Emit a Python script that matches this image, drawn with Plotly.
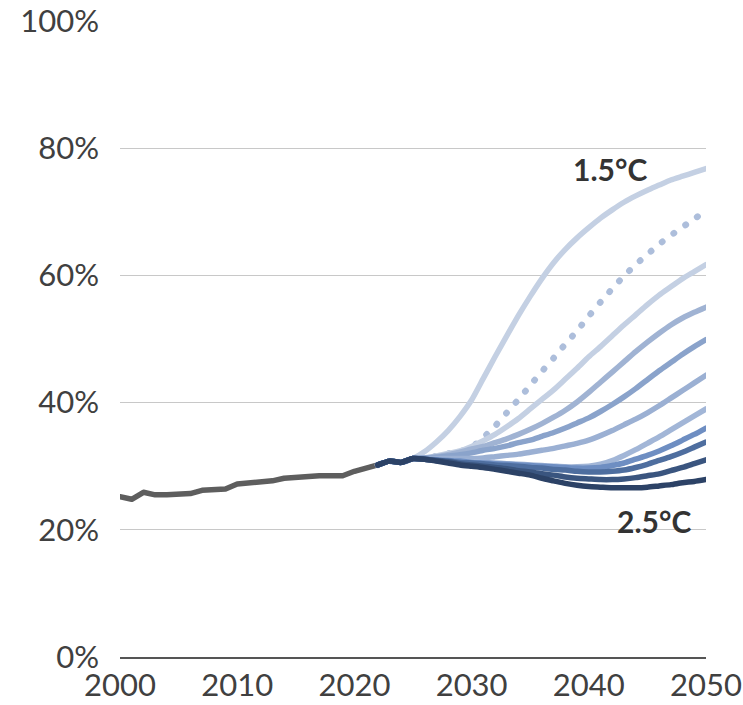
import plotly.graph_objects as go

# Historical share, 2000-2022
hist_years = list(range(2000, 2023))
hist_share = [25.2, 24.8, 25.9, 25.5, 25.5, 25.5, 25.7, 26.2, 26.2, 26.4,
              27.2, 27.4, 27.4, 27.7, 28.1, 28.3, 28.5, 28.5, 28.5, 28.5,
              29.2, 29.8, 30.2]

# Common start of all pathways, 2022-2024
stub_share = [30.2, 30.8, 30.6]

# Pathway values 2025-2050, from the 1.5°C case down to the 2.5°C case
proj_years = list(range(2022, 2051))
p15 = [31.2, 32.3, 33.8, 35.6, 37.8, 40.4, 43.8, 47.2, 50.5, 53.7, 56.7, 59.5, 62.0,
       64.1, 65.9, 67.5, 69.0, 70.3, 71.5, 72.5, 73.4, 74.2, 75.0, 75.6, 76.2, 76.8]
p_dot = [31.2, 31.3, 31.6, 32.0, 32.3, 33.0, 34.5, 36.3, 38.4, 40.5, 42.7, 44.9, 47.0,
         49.2, 51.3, 53.6, 55.8, 57.9, 59.9, 61.7, 63.3, 64.9, 66.3, 67.6, 68.9, 70.1]
p3 = [31.2, 31.3, 31.6, 32.0, 32.4, 33.1, 34.0, 35.0, 36.2, 37.5, 39.0, 40.5, 42.0,
      43.7, 45.4, 47.2, 48.8, 50.5, 52.2, 53.8, 55.4, 56.9, 58.2, 59.5, 60.6, 61.7]
p4 = [31.2, 31.3, 31.5, 31.8, 32.2, 32.7, 33.1, 33.7, 34.3, 35.0, 35.8, 36.7, 37.7,
      38.8, 40.1, 41.6, 43.2, 44.8, 46.4, 48.0, 49.5, 50.9, 52.2, 53.3, 54.2, 55.0]
p5 = [31.2, 31.3, 31.4, 31.6, 31.8, 32.1, 32.5, 32.8, 33.2, 33.7, 34.1, 34.7, 35.3,
      36.0, 36.8, 37.6, 38.6, 39.7, 40.9, 42.2, 43.6, 45.0, 46.3, 47.6, 48.8, 49.9]
p6 = [31.2, 31.2, 31.2, 31.2, 31.2, 31.2, 31.3, 31.5, 31.7, 31.9, 32.2, 32.5, 32.8,
      33.2, 33.6, 34.1, 34.8, 35.6, 36.5, 37.4, 38.4, 39.5, 40.7, 41.9, 43.1, 44.3]
p7 = [31.2, 31.1, 31.0, 30.9, 30.8, 30.7, 30.6, 30.5, 30.4, 30.3, 30.2, 30.1, 30.0,
      29.9, 29.9, 30.0, 30.3, 30.9, 31.7, 32.6, 33.6, 34.6, 35.7, 36.8, 37.9, 39.0]
p8 = [31.2, 31.1, 31.0, 30.9, 30.8, 30.6, 30.5, 30.4, 30.3, 30.2, 30.1, 30.0, 29.9,
      29.8, 29.7, 29.7, 29.8, 30.1, 30.5, 31.1, 31.7, 32.4, 33.2, 34.1, 35.0, 36.0]
p9 = [31.2, 31.1, 30.9, 30.8, 30.6, 30.5, 30.4, 30.2, 30.1, 30.0, 29.8, 29.7, 29.5,
      29.4, 29.2, 29.1, 29.1, 29.2, 29.4, 29.8, 30.3, 30.9, 31.5, 32.2, 33.0, 33.8]
p10 = [31.2, 31.1, 30.9, 30.7, 30.4, 30.2, 30.0, 29.8, 29.6, 29.3, 29.1, 28.8, 28.6,
       28.3, 28.1, 28.0, 27.9, 27.9, 28.0, 28.2, 28.5, 28.8, 29.3, 29.8, 30.4, 31.0]
p25 = [31.2, 31.1, 30.8, 30.5, 30.2, 30.0, 29.8, 29.5, 29.2, 28.9, 28.6, 28.1, 27.7,
       27.3, 27.0, 26.8, 26.7, 26.6, 26.6, 26.6, 26.7, 26.9, 27.1, 27.4, 27.6, 27.9]

x_ticks = [2000, 2010, 2020, 2030, 2040, 2050]
y_ticks = [0, 20, 40, 60, 80, 100]

# Pathways drawn from lightest to darkest so the darker ones sit on top
pathways = [
    (p15, "#c4d0e3", "solid", 5.5),
    (p_dot, "#adbedb", "0.5px,14px", 6.5),
    (p3, "#c4d0e3", "solid", 5.5),
    (p4, "#a0b3d3", "solid", 5.5),
    (p5, "#8aa3cb", "solid", 5.5),
    (p6, "#9bb0d3", "solid", 5.5),
    (p7, "#a2b6d7", "solid", 5.5),
    (p8, "#6e8ec2", "solid", 5.5),
    (p9, "#4e6e9f", "solid", 5.5),
    (p10, "#3a557f", "solid", 5.5),
    (p25, "#2c4266", "solid", 5.5),
]

fig = go.Figure()

fig.add_trace(go.Scatter(
    x=hist_years, y=hist_share, mode="lines",
    line=dict(color="#5e5e5e", width=5.5), hoverinfo="skip", showlegend=False,
))

for values, color, dash, width in pathways:
    fig.add_trace(go.Scatter(
        x=proj_years, y=stub_share + values, mode="lines",
        line=dict(color=color, width=width, dash=dash, shape="spline", smoothing=0.6),
        hoverinfo="skip", showlegend=False,
    ))

label_font = dict(family="Lato, sans-serif", size=30, color="#333333")
fig.add_annotation(x=2041.8, y=p15[-1], text="<b>1.5°C</b>", showarrow=False,
                   font=label_font, xanchor="center", yanchor="middle")
fig.add_annotation(x=2045.6, y=21.4, text="<b>2.5°C</b>", showarrow=False,
                   font=label_font, xanchor="center", yanchor="middle")

tick_font = dict(family="Lato, sans-serif", size=31, color="#404040")
fig.update_layout(
    width=743, height=705,
    margin=dict(l=120, r=37, t=21, b=48),
    paper_bgcolor="white", plot_bgcolor="white",
    xaxis=dict(
        range=[2000, 2050], tickvals=x_ticks, ticktext=[str(v) for v in x_ticks],
        showgrid=False, zeroline=False, showline=True, linecolor="#555555",
        linewidth=1.5, ticks="", tickfont=tick_font, ticklabelstandoff=0,
        automargin=False,
    ),
    yaxis=dict(
        range=[0, 100], tickvals=y_ticks, ticktext=[f"{v}%" for v in y_ticks],
        showgrid=True, gridcolor="#c8c8c8", gridwidth=1, zeroline=False,
        showline=False, ticks="", tickfont=tick_font, ticklabelstandoff=20,
        automargin=False,
    ),
)

# Page without body margin; round line caps turn the dotted pathway into dots
page_style = """
var s = document.createElement('style');
s.innerHTML = 'html, body { margin: 0; padding: 0; overflow: hidden; } ' +
  '.scatterlayer .js-line { stroke-linecap: round; stroke-linejoin: round; }';
document.head.appendChild(s);
"""

fig.write_html("out.html", post_script=page_style)
